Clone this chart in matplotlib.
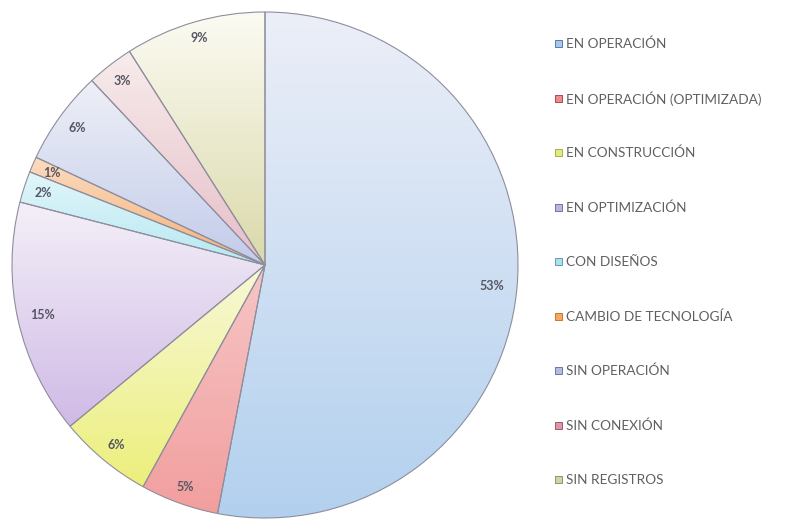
import numpy as np
import matplotlib
matplotlib.use("Agg")
import matplotlib.pyplot as plt
from matplotlib.colors import LinearSegmentedColormap
from matplotlib.patches import Rectangle

plt.rcParams['font.family'] = ['Lato', 'DejaVu Sans']

# Estado de las plantas (porcentaje)
categorias = ['EN OPERACIÓN', 'EN OPERACIÓN (OPTIMIZADA)', 'EN CONSTRUCCIÓN',
              'EN OPTIMIZACIÓN', 'CON DISEÑOS', 'CAMBIO DE TECNOLOGÍA',
              'SIN OPERACIÓN', 'SIN CONEXIÓN', 'SIN REGISTROS']
porcentajes = [53, 5, 6, 15, 2, 1, 6, 3, 9]

# Degradado de cada sector: color arriba, color abajo
color_arriba = ['#eceff8', '#f6c6c6', '#f8f8d8', '#f4f0f8', '#e2f6fa',
                '#fbdcc0', '#eef0f7', '#f7ecec', '#fcfbf3']
color_abajo = ['#b2d0ee', '#f29e9e', '#ecef7a', '#d0bae6', '#b6e8f2',
               '#f5b078', '#c2cbea', '#e6bec8', '#dad9aa']
color_leyenda = ['#a8c8ea', '#ec8c8c', '#e2ea84', '#c0b4dc', '#aee0ec',
                 '#f4a860', '#b4bce0', '#dc98a8', '#ccd6a6']
borde_leyenda = ['#5a7ab0', '#b04848', '#a8ae40', '#7a70a0', '#60a0b0',
                 '#c07830', '#6a74a8', '#a05868', '#8a9660']

W, H = 797, 521
fig = plt.figure(figsize=(W / 100, H / 100), dpi=100)

# Pastel
cx, cy, R = 265, 265, 253
ax = fig.add_axes([(cx - R) / W, (H - cy - R) / H, 2 * R / W, 2 * R / H])
ax.set_xlim(-1, 1)
ax.set_ylim(-1, 1)
ax.set_aspect('equal')
ax.axis('off')

wedges, _ = ax.pie(porcentajes, startangle=90, counterclock=False, radius=1,
                   wedgeprops=dict(facecolor='none', edgecolor='#8e8e9c', linewidth=0.8))

grad = np.linspace(0, 1, 256).reshape(-1, 1)
for w, ca, cb in zip(wedges, color_arriba, color_abajo):
    verts = w.get_path().vertices
    x0, x1 = verts[:, 0].min(), verts[:, 0].max()
    y0, y1 = verts[:, 1].min(), verts[:, 1].max()
    cmap = LinearSegmentedColormap.from_list('g', [ca, cb])
    im = ax.imshow(grad, cmap=cmap, extent=[x0, x1, y0, y1], origin='upper',
                   aspect='auto', interpolation='bilinear', zorder=0)
    im.set_clip_path(w)
ax.set_xlim(-1, 1)
ax.set_ylim(-1, 1)

# Etiquetas de porcentaje en el borde interior
for w, p in zip(wedges, porcentajes):
    ang = np.deg2rad((w.theta1 + w.theta2) / 2)
    txt = f'{p}%'
    hw = len(txt) * 5.2 / R
    hh = 5.5 / R
    r = 0.965 - (hw * abs(np.cos(ang)) + hh * abs(np.sin(ang)))
    ax.text(r * np.cos(ang), r * np.sin(ang), txt, ha='center', va='center',
            fontsize=9, fontweight='bold', color='#565664')

# Leyenda
lax = fig.add_axes([0, 0, 1, 1])
lax.set_xlim(0, W)
lax.set_ylim(H, 0)
lax.axis('off')
y_leyenda = 44
paso = 54.5
for i, nombre in enumerate(categorias):
    y = y_leyenda + i * paso
    lax.add_patch(Rectangle((555, y - 4), 7, 7, facecolor=color_leyenda[i],
                            edgecolor=borde_leyenda[i], linewidth=0.7))
    lax.text(566, y, nombre, ha='left', va='center', fontsize=9.8,
             color='#606060')

fig.savefig('out.png', dpi=100)
